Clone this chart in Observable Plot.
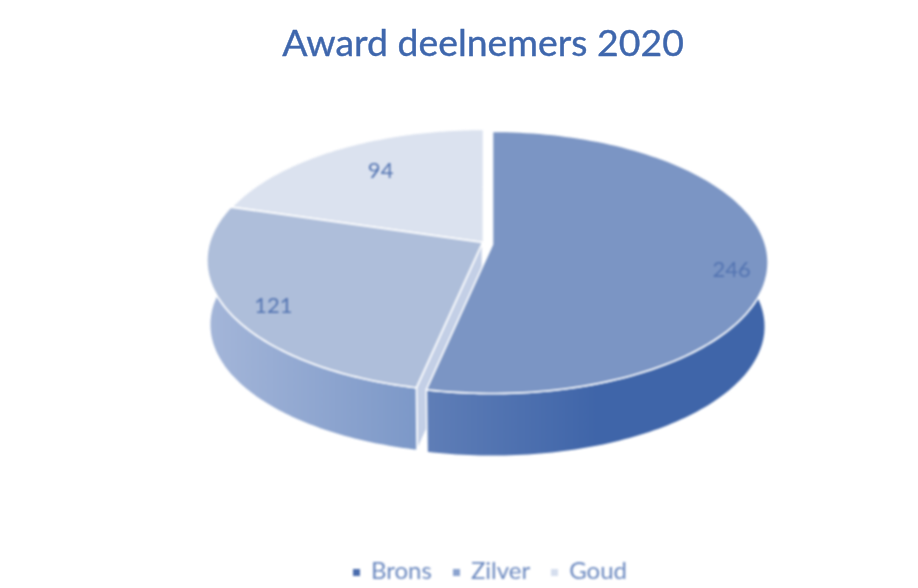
<!DOCTYPE html>
<html><head><meta charset="utf-8">
<script src="https://cdn.jsdelivr.net/npm/d3@7"></script>
<script src="https://cdn.jsdelivr.net/npm/@observablehq/plot@0.6"></script>
<style>
html,body{margin:0;padding:0;background:#fff;width:918px;height:588px;overflow:hidden}
body{font-family:Lato,"Open Sans",sans-serif}
#title{height:80px;box-sizing:border-box;padding-top:17px;text-align:center;font-size:37.4px;line-height:50px;color:#3f67ad;margin-left:48px;filter:blur(.7px);-webkit-text-stroke:.4px #3f67ad}
#chart svg{display:block;filter:blur(.8px)}
#legend{height:38px;position:relative;display:flex;justify-content:center;align-items:center;gap:21px;font-size:24px;color:#6a88bf;margin-left:62px;filter:blur(.9px)}
#legend span.sw{display:inline-block;width:7px;height:7px;margin-right:11px;vertical-align:3px}
</style></head><body>
<div id="title">Award deelnemers 2020</div>
<div id="chart"></div>
<div id="legend"></div>
<script>
const categories = ["Brons", "Zilver", "Goud"];
const values = [246, 121, 94];

const topColors = ["#7b95c4", "#aebeda", "#dbe2ef"];
const legendColors = ["#4a6cad", "#8ba3cf", "#d5deee"];
const labelColor = "#5273b1";
const sideStops = [
  [["0%", "#5f7eb7"], ["50%", "#3f65a9"], ["100%", "#3f65a9"]],
  [["0%", "#a4b6d9"], ["100%", "#7c98c8"]]
];

const perspective = 0.137, baseShrink = 0.99, depth = 0.5;
const explode = [[5, 1], [-5, -1], [-4, -1]];
const labelRadius = [0.87, 0.85, 0.72];
const labelNudge = [[0, 14], [3, 4], [6, -3]];
const sideExtra = [[60, null], [null, 300]];

const total = d3.sum(values);
const cum = d3.cumsum(values);
const start = i => (i ? cum[i - 1] : 0) / total * 360;
const end = i => cum[i] / total * 360;

function project(deg, r = 1, base = false) {
  const t = deg * Math.PI / 180;
  const u = r * Math.sin(t), v = r * Math.cos(t);
  const s = 1 / (1 + perspective * v) * (base ? baseShrink : 1);
  return {x: u * s, y: v * s - (base ? depth : 0)};
}
const arc = (a, b, base = false) =>
  d3.range(0, 121).map(k => project(a + (b - a) * k / 120, 1, base));
const closed = pts => [...pts, pts[0]];

const topFace = i => closed([project(0, 0), ...arc(start(i), end(i))]);
const sideFace = (a, b) => closed([...arc(a, b), ...arc(b, a, true)]);
const wall = deg => closed([project(0, 0), project(deg), project(deg, 1, true), project(0, 0, true)]);

const faceStyle = {x: "x", y: "y", stroke: "#fff", strokeWidth: 1.6, strokeLinejoin: "round"};
const defs = () => {
  const d = d3.create("svg:defs");
  sideStops.forEach((stops, i) => {
    const g = d.append("linearGradient").attr("id", "side" + i);
    stops.forEach(([o, c]) => g.append("stop").attr("offset", o).attr("stop-color", c));
  });
  return d.node();
};

const chart = Plot.plot({
  width: 918, height: 470,
  margin: 0,
  x: {domain: [-1, 1], range: [214, 760], axis: null},
  y: {domain: [-1, 1], range: [291.6, 34.4], axis: null},
  marks: [
    defs,
    Plot.line(wall(end(0)), {...faceStyle, fill: "#c3cfe6", dx: explode[1][0], dy: explode[1][1]}),
    Plot.line(sideFace(end(0), sideExtra[1][1]), {...faceStyle, fill: "url(#side1)", dx: explode[1][0], dy: explode[1][1]}),
    Plot.line(sideFace(sideExtra[0][0], end(0)), {...faceStyle, fill: "url(#side0)", dx: explode[0][0], dy: explode[0][1]}),
    ...[2, 1, 0].map(i => Plot.line(topFace(i), {...faceStyle, fill: topColors[i], dx: explode[i][0], dy: explode[i][1]})),
    ...categories.map((c, i) => Plot.text([values[i]], {
      x: () => project((start(i) + end(i)) / 2, labelRadius[i]).x,
      y: () => project((start(i) + end(i)) / 2, labelRadius[i]).y,
      text: d => String(d),
      dx: explode[i][0] + labelNudge[i][0],
      dy: explode[i][1] + labelNudge[i][1],
      fill: labelColor, fontSize: 22, fontFamily: "Lato, 'Open Sans', sans-serif"
    }))
  ]
});
document.getElementById("chart").append(chart);

const legend = d3.select("#legend");
categories.forEach((c, i) => {
  const item = legend.append("div");
  item.append("span").attr("class", "sw").style("background", legendColors[i]);
  item.append("span").text(c);
});
</script>
</body></html>
